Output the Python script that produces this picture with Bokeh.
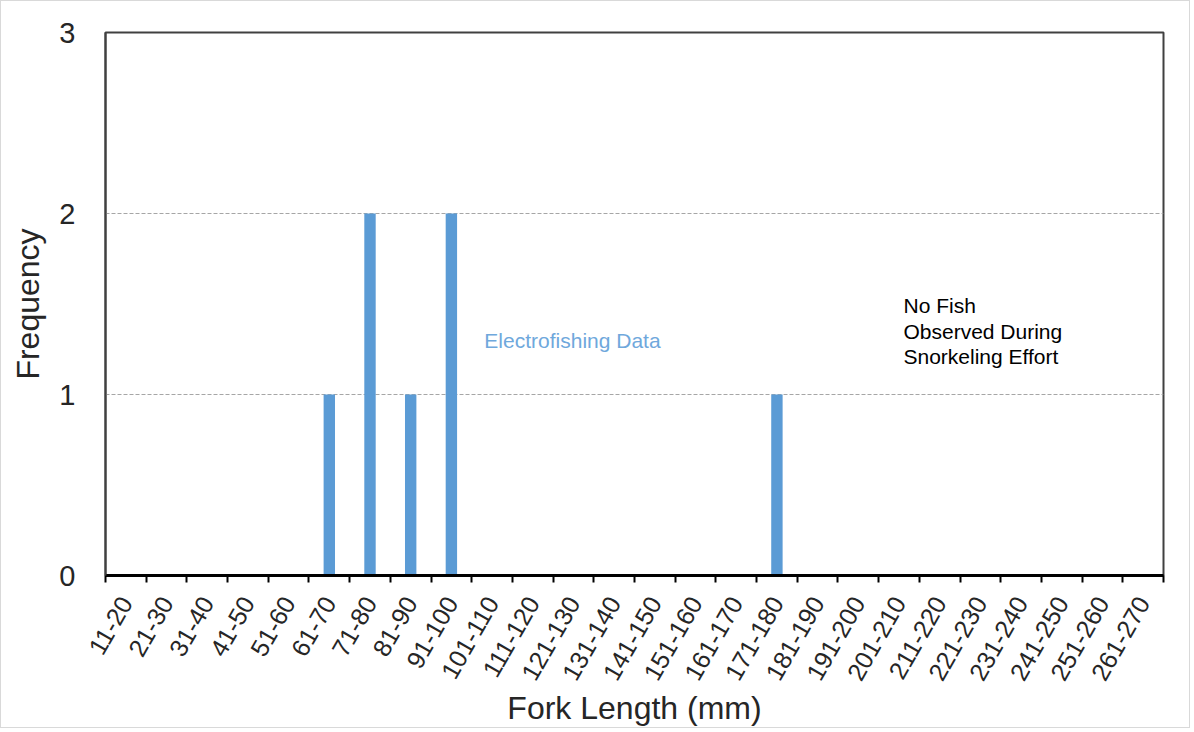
from bokeh.plotting import figure
from bokeh.models import Range1d, LinearAxis, FixedTicker, Label, ColumnDataSource
from bokeh.embed import file_html
from bokeh.resources import INLINE
import math

# ---- data ----
categories = ["11-20", "21-30", "31-40", "41-50", "51-60", "61-70", "71-80", "81-90",
              "91-100", "101-110", "111-120", "121-130", "131-140", "141-150", "151-160",
              "161-170", "171-180", "181-190", "191-200", "201-210", "211-220", "221-230",
              "231-240", "241-250", "251-260", "261-270"]
frequency = [0, 0, 0, 0, 0, 1, 2, 1, 2, 0, 0, 0, 0, 0, 0, 0, 1, 0, 0, 0, 0, 0, 0, 0, 0, 0]
y_ticks = [0, 1, 2, 3]

FONT = "Liberation Sans"
TXT = "#262626"
BAR = "#5b9bd5"

# category i is centred on i
positions = list(range(len(categories)))
bounds = [i - 0.5 for i in range(len(categories) + 1)]

p = figure(x_range=Range1d(-0.5, len(categories) - 0.5), y_range=Range1d(0, 3),
           width=1190, height=728, output_backend="svg", toolbar_location=None,
           x_axis_location=None, tools="",
           min_border_left=104, min_border_right=28, min_border_top=31, min_border_bottom=152)
p.background_fill_color = "white"
p.border_fill_color = "white"
p.outline_line_color = "#404040"
p.outline_line_width = 2
p.styles = {"border": "1px solid #d9d9d9"}

src = ColumnDataSource(dict(x=positions, cat=categories, freq=frequency))
p.vbar(x="x", top="freq", width=0.28, source=src, fill_color=BAR, line_color=None)

# x axis
xaxis = LinearAxis(ticker=FixedTicker(ticks=positions, minor_ticks=bounds),
                   major_label_overrides={i: c for i, c in zip(positions, categories)})
xaxis.major_label_orientation = 1.05
xaxis.major_tick_line_color = None
xaxis.minor_tick_line_color = "black"
xaxis.minor_tick_line_width = 2
xaxis.minor_tick_out = 7
xaxis.minor_tick_in = 0
xaxis.axis_line_color = "black"
xaxis.axis_line_width = 3
xaxis.major_label_text_font = FONT
xaxis.major_label_text_font_size = "25px"
xaxis.major_label_text_color = TXT
xaxis.major_label_standoff = 16
xaxis.axis_label = "Fork Length (mm)"
xaxis.axis_label_text_font = FONT
xaxis.axis_label_text_font_size = "32px"
xaxis.axis_label_text_font_style = "normal"
xaxis.axis_label_text_color = TXT
xaxis.axis_label_standoff = 0
p.add_layout(xaxis, "below")

# y axis
yaxis = p.yaxis[0]
yaxis.ticker = FixedTicker(ticks=y_ticks)
yaxis.major_tick_line_color = None
yaxis.minor_tick_line_color = None
yaxis.axis_line_color = "#404040"
yaxis.axis_line_width = 2
yaxis.major_label_text_font = FONT
yaxis.major_label_text_font_size = "29px"
yaxis.major_label_text_color = TXT
yaxis.major_label_standoff = 24
yaxis.axis_label = "Frequency"
yaxis.axis_label_text_font = FONT
yaxis.axis_label_text_font_size = "32px"
yaxis.axis_label_text_font_style = "normal"
yaxis.axis_label_text_color = TXT
yaxis.axis_label_standoff = 10

p.xgrid.grid_line_color = None
p.ygrid.ticker = FixedTicker(ticks=[1, 2])
p.ygrid.grid_line_color = "#a6a6a6"
p.ygrid.grid_line_dash = "4 2"
p.ygrid.grid_line_width = 1

# annotations
p.add_layout(Label(x=8.81, y=1.30, text="Electrofishing Data",
                   text_font=FONT, text_font_size="21px", text_color="#6fa8dc",
                   text_baseline="middle", text_align="left"))
for i, line in enumerate(["No Fish", "Observed During", "Snorkeling Effort"]):
    p.add_layout(Label(x=19.11, y=1.49 - i * 0.14, text=line,
                       text_font=FONT, text_font_size="21px", text_color="black",
                       text_baseline="middle", text_align="left"))

open("out.html", "w").write(file_html(p, INLINE))
